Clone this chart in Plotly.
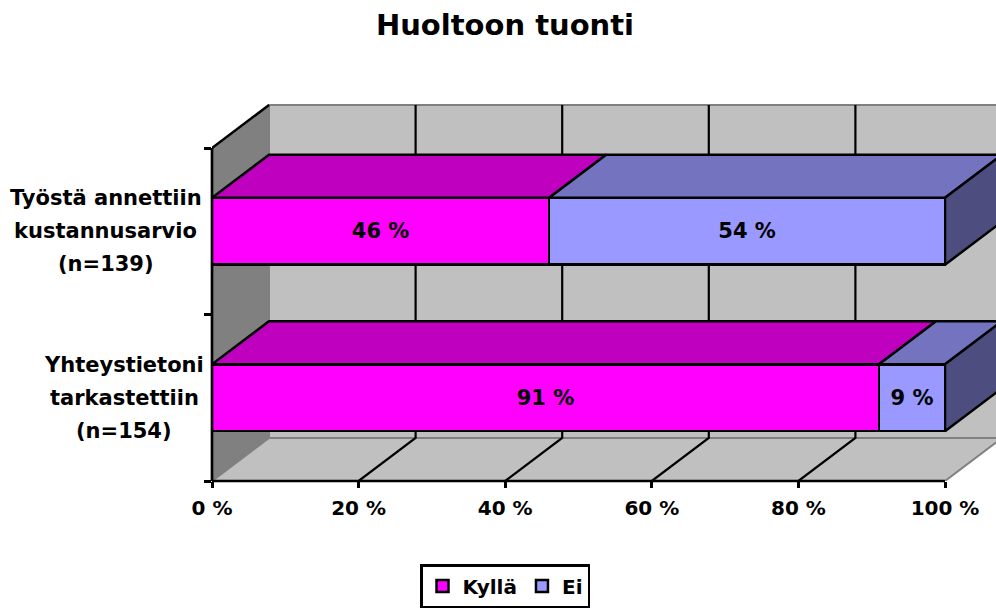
import plotly.graph_objects as go

category_lines = [["Yhteystietoni", "tarkastettiin", "(n=154)"], ["Työstä annettiin", "kustannusarvio", "(n=139)"]]
kylla = [91, 46]
ei = [9, 54]
x_ticks = [0, 20, 40, 60, 80, 100]
title_text = "Huoltoon tuonti"

FONT = "DejaVu Sans"
W, H = 996, 608
L, R, T, B = 212, 945, 148, 481   # front plane
band = (B - T) / 2
dx = 57 / (R - L) * 100       # 3-D depth, in x units
dy = 43 / band                # 3-D depth, in y units
TOP = T - 43 - 4              # plot area extended to hold the walls
xmax = (W - L) / (R - L) * 100
ymax = (B - TOP) / band
xf = 100 / xmax
yf = 2 / ymax
ypos = [0.5, 1.5]
label_cx = [124, 106]
bw = 0.402
BLACK = "#000000"
fig = go.Figure()


def poly(xs, ys, fill=None, line=BLACK, lw=2.5):
    fig.add_trace(go.Scatter(
        x=xs, y=ys, mode="lines", fill="toself" if fill else None,
        fillcolor=fill, line=dict(color=line, width=lw),
        hoverinfo="skip", showlegend=False, xaxis="x", yaxis="y"))


# walls and floor
poly([0, dx, dx, 0, 0], [0, dy, 2 + dy, 2, 0], "#808080", "#808080", 1.5)
poly([dx, 100 + dx, 100 + dx, dx, dx], [dy, dy, 2 + dy, 2 + dy, dy], "#C0C0C0", "#808080", 2)
poly([0, 100, 100 + dx, dx, 0], [0, 0, dy, dy, 0], "#C0C0C0", "#808080", 2)
poly([0, dx], [2, 2 + dy], None, BLACK, 2.5)
# gridlines on back wall and floor
for v in x_ticks[1:-1]:
    poly([v, v + dx, v + dx], [0, dy, 2 + dy], None, BLACK, 2.2)

# 3-D faces of the bars
for yc, a, b in zip(ypos, kylla, ei):
    y0, y1 = yc - bw / 2, yc + bw / 2
    poly([0, a, a + dx, dx, 0], [y1, y1, y1 + dy, y1 + dy, y1], "#BF00BF")
    poly([a, a + b, a + b + dx, a + dx, a], [y1, y1, y1 + dy, y1 + dy, y1], "#7373BF")
    poly([a + b, a + b + dx, a + b + dx, a + b, a + b], [y0, y0 + dy, y1 + dy, y1, y0], "#4D4D80")

for name, vals, color in [("Kyllä", kylla, "#FF00FF"), ("Ei", ei, "#9999FF")]:
    fig.add_trace(go.Bar(
        x=vals, y=ypos, name=name, orientation="h", width=bw,
        marker=dict(color=color, line=dict(color=BLACK, width=2.5)),
        text=[f"{v} %" for v in vals], textposition="inside", insidetextanchor="middle",
        textangle=0, constraintext="none",
        textfont=dict(family=FONT, size=21, color=BLACK, weight="bold"),
        hoverinfo="skip", xaxis="x2", yaxis="y2"))

# category labels: one annotation per line, for the reference's wide line spacing
annotations = []
for lines, y, cx in zip(category_lines, ypos, label_cx):
    for i, line in enumerate(lines):
        annotations.append(dict(
            text=f"<b>{line}</b>", x=(cx - L) / (W - L), y=y, xref="paper", yref="y",
            xanchor="center", yanchor="middle", yshift=(1 - i) * 33, showarrow=False,
            font=dict(family=FONT, size=21, color=BLACK)))

# axis lines stop at the front plane, not at the edge of the extended plot area
shapes = [
    dict(type="line", xref="paper", yref="paper", x0=0, x1=xf, y0=0, y1=0,
         line=dict(color=BLACK, width=2.7), layer="above"),
    dict(type="line", xref="paper", yref="paper", x0=0, x1=0, y0=0, y1=yf,
         line=dict(color=BLACK, width=2.7), layer="above"),
]

fig.update_layout(
    width=W, height=H, barmode="stack", paper_bgcolor="white", plot_bgcolor="rgba(0,0,0,0)",
    margin=dict(l=L, r=0, t=TOP, b=H - B, autoexpand=False),
    title=dict(text=f"<b>{title_text}</b>", x=505 / W, y=1 - 24.5 / H, xanchor="center", yanchor="middle",
               xref="container", font=dict(family=FONT, size=29, color=BLACK)),
    xaxis=dict(range=[0, xmax], tickvals=x_ticks, ticktext=[f"{v} %" for v in x_ticks],
               ticks="outside", ticklen=6, tickwidth=2.5, tickcolor=BLACK, showgrid=False,
               zeroline=False, showline=False, ticklabelstandoff=3,
               tickfont=dict(family=FONT, size=20, color=BLACK, weight="bold")),
    yaxis=dict(range=[0, ymax], tickvals=[0, 1, 2], ticktext=["", "", ""],
               ticks="outside", ticklen=7, tickwidth=2.5, tickcolor=BLACK, showgrid=False,
               zeroline=False, showline=False),
    xaxis2=dict(overlaying="x", matches="x", visible=False),
    yaxis2=dict(overlaying="y", matches="y", visible=False),
    legend=dict(orientation="h", x=(505 - L) / (W - L), y=-(564 - B) / (B - TOP), xanchor="center", yanchor="top",
                bordercolor=BLACK, borderwidth=2.5, bgcolor="white", traceorder="normal",
                font=dict(family=FONT, size=20, color=BLACK, weight="bold")),
    annotations=annotations,
    shapes=shapes,
)
fig.write_html("out.html", config={"displayModeBar": False}, post_script="document.body.style.margin='0';")
